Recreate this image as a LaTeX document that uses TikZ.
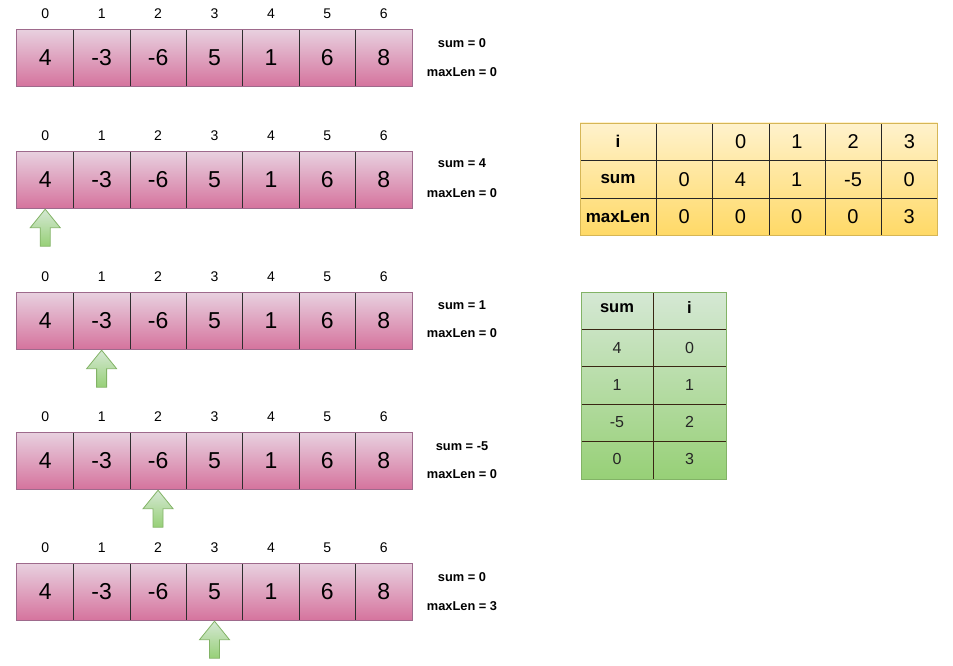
\documentclass[tikz,border=0pt]{standalone}
\usepackage{fontspec}
\setmainfont{Liberation Sans}
\definecolor{pinkT}{HTML}{E8D0DF}
\definecolor{pinkB}{HTML}{D5739D}
\definecolor{pinkS}{HTML}{9E6A8C}
\definecolor{yelT}{HTML}{FFF2CC}
\definecolor{yelB}{HTML}{FFD966}
\definecolor{yelS}{HTML}{D6B656}
\definecolor{grnT}{HTML}{D5E8D4}
\definecolor{grnB}{HTML}{97D077}
\definecolor{grnS}{HTML}{82B366}
\definecolor{divider}{HTML}{2E2E2E}
\tikzset{
  cellbox/.style={minimum width=56.43pt, minimum height=57pt, inner sep=0pt,
    top color=pinkT, bottom color=pinkB, font=\fontsize{23}{26}\selectfont},
  idx/.style={inner sep=0pt, font=\fontsize{14}{16}\selectfont},
  sumlbl/.style={inner sep=0pt, font=\bfseries\fontsize{12.8}{14}\selectfont},
  uparrow/.style={top color=grnT, bottom color=grnB, draw=grnS, line width=0.8pt},
  yhead/.style={inner sep=0pt, font=\bfseries\fontsize{17}{19}\selectfont},
  yval/.style={inner sep=0pt, font=\fontsize{20}{22}\selectfont},
  ghead/.style={inner sep=0pt, font=\bfseries\fontsize{16.5}{18}\selectfont},
  gval/.style={inner sep=0pt, text=black!85, font=\fontsize{16}{18}\selectfont},
}
\begin{document}
\begin{tikzpicture}[x=1pt,y=-1pt]
\useasboundingbox (0,0) rectangle (953,666);
% ---------- arrays ----------
\foreach \r/\top/\a/\sy/\my/\s/\m in {1/29.5/-1/43/72/0/0, 2/151.5/0/163/193/4/0, 3/292.5/1/305/333/1/0, 4/432.5/2/446/474/-5/0, 5/563.5/3/577/606/0/3}{
  \foreach \v [count=\i from 0] in {4,-3,-6,5,1,6,8}{
    \node[cellbox] (c\r-\i) at ({17+56.43*(\i+0.5)},{\top+28.5}) {\v};
    \node[idx] (l\r-\i) at ([yshift=16pt]c\r-\i.north) {\i};
  }
  \foreach \i in {0,...,5}{
    \draw[divider, line width=1.1pt] (c\r-\i.north east) -- (c\r-\i.south east);
  }
  \draw[pinkS, line width=1pt] (c\r-0.north west) rectangle (c\r-6.south east);
  \node[sumlbl] (s\r) at (462,\sy) {sum = \s};
  \node[sumlbl] (m\r) at (462,\my) {maxLen = \m};
  \ifnum\a>-1
    \coordinate (t\r) at ([yshift=-0.5pt]c\r-\a.south);
    \path[uparrow] (t\r) -- ++(15,18.5) -- ++(-10,0) -- ++(0,18.5) -- ++(-10,0)
      -- ++(0,-18.5) -- ++(-10,0) -- cycle;
  \fi
}
% ---------- yellow table ----------
\shade[top color=yelT, bottom color=yelB] (580,123) rectangle (937.5,235.5);
\foreach \x in {656,712.5,769,825,881.5}{
  \draw[black!85, line width=0.9pt] (\x,123) -- (\x,235.5);
}
\foreach \y in {160.5,198}{
  \draw[black!85, line width=0.9pt] (580,\y) -- (937.5,\y);
}
\draw[yelS, line width=0.9pt] (580,123) rectangle (937.5,235.5);
\node[yhead] (yi) at (618,141.75) {i};
\node[yhead] (ys) at (618,179.25) {sum};
\node[yhead] (ym) at (618,216.75) {maxLen};
\foreach \v [count=\k from 0] in {0,1,2,3}{
  \node[yval] (yi\k) at ({740.75+56.25*\k},141.75) {\v};
}
\foreach \v [count=\k from 0] in {0,4,1,-5,0}{
  \node[yval] (ys\k) at ({684.25+56.25*\k},179.25) {\v};
}
\foreach \v [count=\k from 0] in {0,0,0,0,3}{
  \node[yval] (ym\k) at ({684.25+56.25*\k},216.75) {\v};
}
% ---------- green table ----------
\shade[top color=grnT, bottom color=grnB] (581,292) rectangle (726,479);
\draw[black!70!brown, line width=0.9pt] (653,292) -- (653,479);
\foreach \y in {329.5,366.75,404,441.5}{
  \draw[black!70!brown, line width=0.9pt] (581,\y) -- (726,\y);
}
\draw[grnS, line width=0.9pt] (581,292) rectangle (726,479);
\node[ghead] (gs) at (617,308) {sum};
\node[ghead] (gi) at (689.5,308) {i};
\foreach \sv/\iv [count=\k from 0] in {4/0,1/1,-5/2,0/3}{
  \node[gval] (gs\k) at (617,{347.5+37.3*\k}) {\sv};
  \node[gval] (gi\k) at (689.5,{347.5+37.3*\k}) {\iv};
}
\end{tikzpicture}
\end{document}
